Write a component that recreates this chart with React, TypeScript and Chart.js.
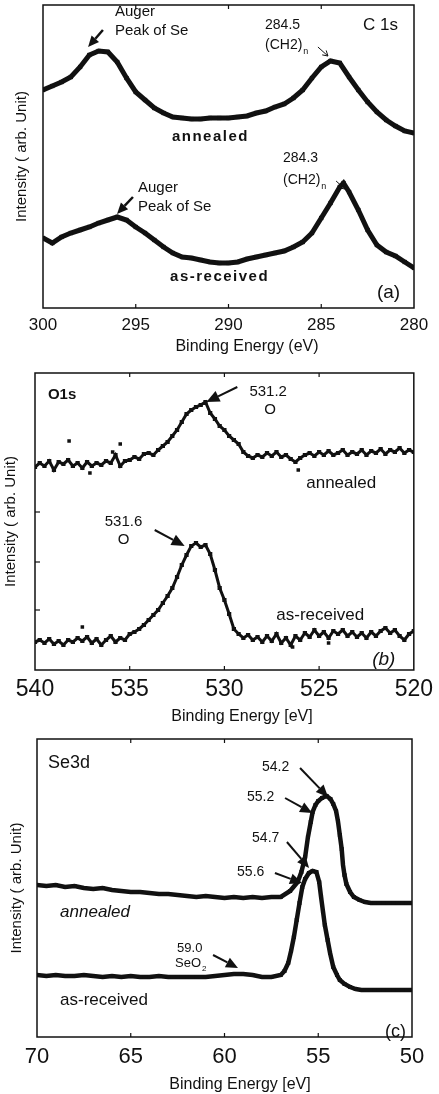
import React, { useEffect, useRef } from "react";
import { Chart, registerables } from "chart.js";

Chart.register(...registerables);

const INK = "#111111";
const FONT = "'Liberation Sans', Arial, Helvetica, sans-serif";

// ---------- Panel (a) C 1s ----------
const c1sAnnealedE = [300, 299.5, 299, 298.5, 298, 297.5, 297, 296.5, 296, 295.5, 295, 294.5, 294, 293.5, 293, 292.5, 292, 291.5, 291, 290.5, 290, 289.5, 289, 288.5, 288, 287.5, 287, 286.5, 286, 285.5, 285, 284.5, 284, 283.5, 283, 282.5, 282, 281.5, 281, 280.5, 280];
const c1sAnnealedI = [218, 222, 226, 231, 241, 253, 257, 256, 246, 230, 216, 208, 200, 195, 191, 190, 189, 189, 190, 190, 190, 191, 192, 195, 197, 201, 204, 210, 218, 230, 241, 247, 245, 231, 218, 206, 196, 188, 182, 177, 175];
const c1sReceivedE = [300, 299.5, 299, 298.5, 298, 297.5, 297, 296.5, 296, 295.5, 295, 294.5, 294, 293.5, 293, 292.5, 292, 291.5, 291, 290.5, 290, 289.5, 289, 288.5, 288, 287.5, 287, 286.5, 286, 285.5, 285, 284.5, 284, 283.8, 283.5, 283, 282.5, 282, 281.5, 281, 280.5, 280];
const c1sReceivedI = [70, 65, 71, 75, 78, 81, 85, 88, 91, 88, 81, 75, 68, 61, 55, 51, 50, 48, 46, 45, 45, 46, 49, 51, 53, 55, 57, 61, 66, 75, 90, 105, 121, 125, 116, 98, 78, 63, 56, 52, 46, 40];
const c1sTickLabels = [300, 295, 290, 285, 280];

// ---------- Panel (b) O 1s ----------
const o1sEnergy = [540, 539.75, 539.5, 539.25, 539, 538.75, 538.5, 538.25, 538, 537.75, 537.5, 537.25, 537, 536.75, 536.5, 536.25, 536, 535.75, 535.5, 535.25, 535, 534.75, 534.5, 534.25, 534, 533.75, 533.5, 533.25, 533, 532.75, 532.5, 532.25, 532, 531.75, 531.5, 531.25, 531, 530.75, 530.5, 530.25, 530, 529.75, 529.5, 529.25, 529, 528.75, 528.5, 528.25, 528, 527.75, 527.5, 527.25, 527, 526.75, 526.5, 526.25, 526, 525.75, 525.5, 525.25, 525, 524.75, 524.5, 524.25, 524, 523.75, 523.5, 523.25, 523, 522.75, 522.5, 522.25, 522, 521.75, 521.5, 521.25, 521, 520.75, 520.5, 520.25, 520];
const o1sAnnealedI = [193, 197, 194, 199, 190, 198, 196, 200, 194, 197, 192, 198, 194, 197, 195, 199, 197, 205, 194, 199, 200, 203, 201, 206, 207, 205, 210, 214, 218, 224, 230, 238, 246, 250, 253, 255, 258, 247, 241, 234, 230, 224, 220, 216, 208, 204, 202, 205, 203, 207, 204, 208, 203, 205, 201, 198, 202, 205, 207, 204, 208, 205, 209, 205, 207, 210, 205, 208, 206, 210, 205, 209, 207, 211, 206, 210, 208, 212, 207, 210, 208];
const o1sReceivedI = [18, 20, 17, 21, 16, 19, 15, 20, 18, 22, 19, 23, 17, 21, 15, 20, 24, 18, 22, 20, 26, 28, 31, 35, 40, 45, 50, 57, 64, 72, 83, 95, 105, 114, 117, 113, 115, 106, 90, 72, 60, 46, 31, 26, 22, 25, 20, 23, 18, 24, 19, 26, 17, 22, 15, 24, 20, 27, 23, 30, 24, 28, 22, 29, 26, 30, 24, 28, 23, 27, 22, 28, 24, 29, 32, 27, 30, 24, 20, 26, 29];
const o1sAnnealedStrayE = [538.2, 537.1, 535.9, 535.5, 526.1];
const o1sAnnealedStrayI = [219, 187, 208, 216, 190];
const o1sReceivedStrayE = [537.5, 526.4, 524.5];
const o1sReceivedStrayI = [33, 13, 17];
const o1sTickLabels = [540, 535, 530, 525, 520];
const o1sYTicks = [50, 98, 148];

// ---------- Panel (c) Se 3d ----------
const se3dAnnealedE = [70, 69.5, 69, 68.5, 68, 67.5, 67, 66.5, 66, 65.5, 65, 64.5, 64, 63.5, 63, 62.5, 62, 61.5, 61, 60.5, 60, 59.5, 59, 58.5, 58, 57.5, 57, 56.5, 56.1, 55.9, 55.7, 55.55, 55.4, 55.3, 55.15, 55, 54.8, 54.55, 54.35, 54.2, 54.05, 53.95, 53.85, 53.75, 53.68, 53.6, 53.5, 53.3, 53.1, 52.8, 52.5, 52.2, 52, 51.5, 51, 50.5, 50];
const se3dAnnealedI = [152, 151, 152, 150, 151, 149, 148, 149, 147, 146, 145, 145, 144, 143, 143, 142, 141, 140, 141, 140, 139, 140, 139, 140, 139, 140, 140, 146, 155, 165, 180, 200, 215, 225, 232, 236, 239, 241, 238, 233, 226, 216, 202, 188, 172, 162, 153, 145, 140, 137, 135, 134, 134, 134, 134, 134, 134];
const se3dReceivedE = [70, 69.5, 69, 68.5, 68, 67.5, 67, 66.5, 66, 65.5, 65, 64.5, 64, 63.5, 63, 62.5, 62, 61.5, 61, 60.5, 60, 59.5, 59, 58.5, 58, 57.5, 57, 56.8, 56.6, 56.45, 56.3, 56.15, 56, 55.85, 55.7, 55.5, 55.3, 55.1, 54.95, 54.85, 54.75, 54.65, 54.5, 54.37, 54.2, 54, 53.85, 53.6, 53.3, 53, 52.7, 52.4, 52, 51.5, 51, 50.5, 50];
const se3dReceivedI = [62, 61, 62, 61, 61, 62, 61, 60, 61, 60, 61, 60, 60, 61, 60, 60, 60, 60, 60, 61, 62, 63, 63, 62, 60, 60, 62, 66, 74, 86, 100, 117, 134, 150, 158, 164, 166, 165, 155, 140, 126, 112, 97, 84, 70, 62, 57, 53, 50, 48, 47, 47, 47, 47, 47, 47, 47];
const se3dTickLabels = [70, 65, 60, 55, 50];

type Note = { text: string; e: number; v: number; size: number; weight?: string; italic?: boolean; spacing?: number; sub?: string };
type Arrow = { e1: number; v1: number; e2: number; v2: number; head: number; width: number; open?: boolean };
type Series = { e: number[]; v: number[]; line: boolean; width: number; radius: number };
type Panel = {
  top: number; height: number; left: number; right: number; plotTop: number; plotBottom: number;
  xMin: number; xMax: number; yMin: number; yMax: number; ticks: number[];
  tickFont: number; tickPad: number; yTitlePad: number;
  xTitle: string; xTitleX: number; xTitleY: number; xTitleSize: number;
  yTicks: number[]; series: Series[]; notes: Note[]; arrows: Arrow[];
};

const panels: Panel[] = [
  {
    top: 0, height: 360, left: 43, right: 414, plotTop: 5, plotBottom: 308,
    xMin: 280, xMax: 300, yMin: 0, yMax: 303, ticks: c1sTickLabels,
    tickFont: 17, tickPad: 7, yTitlePad: 13,
    xTitle: "Binding Energy (eV)", xTitleX: 247, xTitleY: 347, xTitleSize: 16,
    yTicks: [],
    series: [
      { e: c1sAnnealedE, v: c1sAnnealedI, line: true, width: 5, radius: 3 },
      { e: c1sReceivedE, v: c1sReceivedI, line: true, width: 5, radius: 3 },
    ],
    notes: [
      { text: "Auger", e: 296.12, v: 296, size: 15 },
      { text: "Peak of Se", e: 296.12, v: 277, size: 15 },
      { text: "284.5", e: 288.03, v: 283, size: 14 },
      { text: "(CH2)", e: 288.03, v: 263, size: 14, sub: "n" },
      { text: "C 1s", e: 282.75, v: 283, size: 17 },
      { text: "annealed", e: 293.05, v: 171, size: 15, weight: "bold", spacing: 1.5 },
      { text: "284.3", e: 287.06, v: 150, size: 14 },
      { text: "(CH2)", e: 287.06, v: 128, size: 14, sub: "n" },
      { text: "Auger", e: 294.88, v: 120, size: 15 },
      { text: "Peak of Se", e: 294.88, v: 101, size: 15 },
      { text: "as-received", e: 293.15, v: 31, size: 15, weight: "bold", spacing: 1.5 },
      { text: "(a)", e: 282.0, v: 15, size: 19 },
    ],
    arrows: [
      { e1: 296.77, v1: 278, e2: 297.57, v2: 261, head: 11, width: 2.5 },
      { e1: 285.18, v1: 261, e2: 284.64, v2: 252, head: 5, width: 1, open: true },
      { e1: 284.2, v1: 127, e2: 283.72, v2: 119, head: 5, width: 1, open: true },
      { e1: 295.15, v1: 111, e2: 296.01, v2: 94, head: 11, width: 2.5 },
    ],
  },
  {
    top: 362, height: 366, left: 35, right: 415, plotTop: 11, plotBottom: 308,
    xMin: 520, xMax: 540, yMin: -10, yMax: 287, ticks: o1sTickLabels,
    tickFont: 23, tickPad: 6, yTitlePad: 2,
    xTitle: "Binding Energy [eV]", xTitleX: 242, xTitleY: 355, xTitleSize: 16,
    yTicks: o1sYTicks,
    series: [
      { e: o1sEnergy, v: o1sAnnealedI, line: true, width: 3, radius: 3 },
      { e: o1sEnergy, v: o1sReceivedI, line: true, width: 3, radius: 3 },
      { e: o1sAnnealedStrayE, v: o1sAnnealedStrayI, line: false, width: 0, radius: 2.5 },
      { e: o1sReceivedStrayE, v: o1sReceivedStrayI, line: false, width: 0, radius: 2.5 },
    ],
    notes: [
      { text: "O1s", e: 539.32, v: 265, size: 15, weight: "bold" },
      { text: "531.2", e: 528.68, v: 268, size: 15 },
      { text: "O", e: 527.9, v: 250, size: 15 },
      { text: "531.6", e: 536.32, v: 138, size: 15 },
      { text: "O", e: 535.63, v: 120, size: 15 },
      { text: "annealed", e: 525.68, v: 177, size: 17 },
      { text: "as-received", e: 527.26, v: 45, size: 17 },
      { text: "(b)", e: 522.2, v: 0, size: 19, italic: true },
    ],
    arrows: [
      { e1: 529.32, v1: 273, e2: 530.95, v2: 258, head: 13, width: 2 },
      { e1: 533.68, v1: 130, e2: 532.1, v2: 114, head: 13, width: 2 },
    ],
  },
  {
    top: 728, height: 366, left: 37, right: 412, plotTop: 11, plotBottom: 309,
    xMin: 50, xMax: 70, yMin: 0, yMax: 298, ticks: se3dTickLabels,
    tickFont: 22, tickPad: 7, yTitlePad: 8,
    xTitle: "Binding Energy [eV]", xTitleX: 240, xTitleY: 357, xTitleSize: 16,
    yTicks: [],
    series: [
      { e: se3dAnnealedE, v: se3dAnnealedI, line: true, width: 4.5, radius: 2.8 },
      { e: se3dReceivedE, v: se3dReceivedI, line: true, width: 4.5, radius: 2.8 },
    ],
    notes: [
      { text: "Se3d", e: 69.41, v: 274, size: 18 },
      { text: "54.2", e: 58.0, v: 270, size: 14 },
      { text: "55.2", e: 58.8, v: 240, size: 14 },
      { text: "54.7", e: 58.53, v: 199, size: 14 },
      { text: "55.6", e: 59.33, v: 165, size: 14 },
      { text: "59.0", e: 62.53, v: 89, size: 13 },
      { text: "SeO", e: 62.64, v: 74, size: 13, sub: "2" },
      { text: "annealed", e: 68.77, v: 125, size: 17, italic: true },
      { text: "as-received", e: 68.77, v: 37, size: 17 },
      { text: "(c)", e: 51.44, v: 5, size: 18 },
    ],
    arrows: [
      { e1: 55.97, v1: 269, e2: 54.48, v2: 240, head: 12, width: 2 },
      { e1: 56.77, v1: 239, e2: 55.33, v2: 224, head: 12, width: 2 },
      { e1: 56.67, v1: 195, e2: 55.49, v2: 169, head: 12, width: 2 },
      { e1: 57.31, v1: 164, e2: 55.87, v2: 154, head: 12, width: 2 },
      { e1: 60.61, v1: 82, e2: 59.28, v2: 69, head: 12, width: 2 },
    ],
  },
];

function makeDecor(p: Panel) {
  return {
    id: "decor",
    afterDatasetsDraw(chart: any) {
      const { ctx, chartArea: a } = chart;
      const xs = chart.scales.x;
      const ys = chart.scales.y;
      ctx.save();
      ctx.strokeStyle = INK;
      ctx.fillStyle = INK;
      ctx.lineWidth = 1.5;
      ctx.strokeRect(a.left, a.top, a.right - a.left, a.bottom - a.top);
      ctx.lineWidth = 1.2;
      p.ticks.forEach((t) => {
        if (t === p.xMin || t === p.xMax) return;
        const px = xs.getPixelForValue(t);
        ctx.beginPath();
        ctx.moveTo(px, a.bottom);
        ctx.lineTo(px, a.bottom - 4);
        ctx.moveTo(px, a.top);
        ctx.lineTo(px, a.top + 4);
        ctx.stroke();
      });
      p.yTicks.forEach((v) => {
        const py = ys.getPixelForValue(v);
        ctx.beginPath();
        ctx.moveTo(a.left, py);
        ctx.lineTo(a.left + 5, py);
        ctx.stroke();
      });
      p.arrows.forEach((ar) => {
        const x1 = xs.getPixelForValue(ar.e1), y1 = ys.getPixelForValue(ar.v1);
        const x2 = xs.getPixelForValue(ar.e2), y2 = ys.getPixelForValue(ar.v2);
        const ang = Math.atan2(y2 - y1, x2 - x1);
        const h = ar.head;
        const bx = x2 - Math.cos(ang) * h, by = y2 - Math.sin(ang) * h;
        ctx.lineWidth = ar.width;
        ctx.beginPath();
        ctx.moveTo(x1, y1);
        ctx.lineTo(ar.open ? x2 : bx, ar.open ? y2 : by);
        ctx.stroke();
        const w = ar.open ? h * 0.6 : h * 0.45;
        const lx = bx + Math.cos(ang + Math.PI / 2) * w, ly = by + Math.sin(ang + Math.PI / 2) * w;
        const rx = bx - Math.cos(ang + Math.PI / 2) * w, ry = by - Math.sin(ang + Math.PI / 2) * w;
        ctx.beginPath();
        if (ar.open) {
          ctx.moveTo(lx, ly);
          ctx.lineTo(x2, y2);
          ctx.lineTo(rx, ry);
          ctx.stroke();
        } else {
          ctx.moveTo(x2, y2);
          ctx.lineTo(lx, ly);
          ctx.lineTo(rx, ry);
          ctx.closePath();
          ctx.fill();
        }
      });
      ctx.textAlign = "left";
      ctx.textBaseline = "middle";
      p.notes.forEach((n) => {
        const x = xs.getPixelForValue(n.e), y = ys.getPixelForValue(n.v);
        ctx.font = `${n.italic ? "italic " : ""}${n.weight || "normal"} ${n.size}px ${FONT}`;
        (ctx as any).letterSpacing = `${n.spacing || 0}px`;
        ctx.fillText(n.text, x, y);
        if (n.sub) {
          const w = ctx.measureText(n.text).width;
          ctx.font = `${Math.round(n.size * 0.65)}px ${FONT}`;
          ctx.fillText(n.sub, x + w + 1, y + n.size * 0.45);
        }
      });
      (ctx as any).letterSpacing = "0px";
      ctx.font = `${p.xTitleSize}px ${FONT}`;
      ctx.textAlign = "center";
      ctx.fillText(p.xTitle, p.xTitleX, p.xTitleY);
      ctx.restore();
    },
  };
}

function PanelChart({ p }: { p: Panel }) {
  const ref = useRef<HTMLCanvasElement>(null);
  useEffect(() => {
    const canvas = ref.current;
    if (!canvas) return;
    const chart = new Chart(canvas, {
      type: "scatter",
      data: {
        datasets: p.series.map((s) => ({
          data: s.e.map((x, i) => ({ x, y: s.v[i] })),
          showLine: s.line,
          borderColor: INK,
          backgroundColor: INK,
          borderWidth: s.width,
          pointStyle: "rect",
          pointRadius: s.radius,
          pointBorderWidth: 0,
          pointBackgroundColor: INK,
          tension: 0,
        })),
      },
      options: {
        responsive: false,
        animation: false,
        devicePixelRatio: 1,
        layout: { padding: { left: 0, right: 439 - p.right, top: p.plotTop, bottom: 0 } },
        plugins: { legend: { display: false }, tooltip: { enabled: false } },
        scales: {
          x: {
            type: "linear",
            reverse: true,
            min: p.xMin,
            max: p.xMax,
            afterBuildTicks: (s: any) => {
              s.ticks = p.ticks.map((v) => ({ value: v }));
            },
            ticks: {
              autoSkip: false,
              maxRotation: 0,
              padding: p.tickPad,
              color: INK,
              font: { family: FONT, size: p.tickFont },
            },
            grid: { display: false, drawTicks: false },
            border: { display: false },
            afterFit: (s: any) => {
              s.height = p.height - p.plotBottom;
            },
          },
          y: {
            min: p.yMin,
            max: p.yMax,
            ticks: { display: false },
            grid: { display: false, drawTicks: false },
            border: { display: false },
            title: {
              display: true,
              text: "Intensity ( arb. Unit)",
              color: INK,
              font: { family: FONT, size: 15 },
              padding: { top: p.yTitlePad, bottom: 0 },
            },
            afterFit: (s: any) => {
              s.width = p.left;
            },
          },
        },
      },
      plugins: [makeDecor(p)],
    } as any);
    return () => chart.destroy();
  }, [p]);
  return (
    <canvas
      ref={ref}
      width={439}
      height={p.height}
      style={{ position: "absolute", left: 0, top: p.top, width: 439, height: p.height }}
    />
  );
}

export default function App() {
  return (
    <div style={{ position: "absolute", left: 0, top: 0, width: 439, height: 1094, background: "#fff" }}>
      {panels.map((p, i) => (
        <PanelChart key={i} p={p} />
      ))}
    </div>
  );
}
